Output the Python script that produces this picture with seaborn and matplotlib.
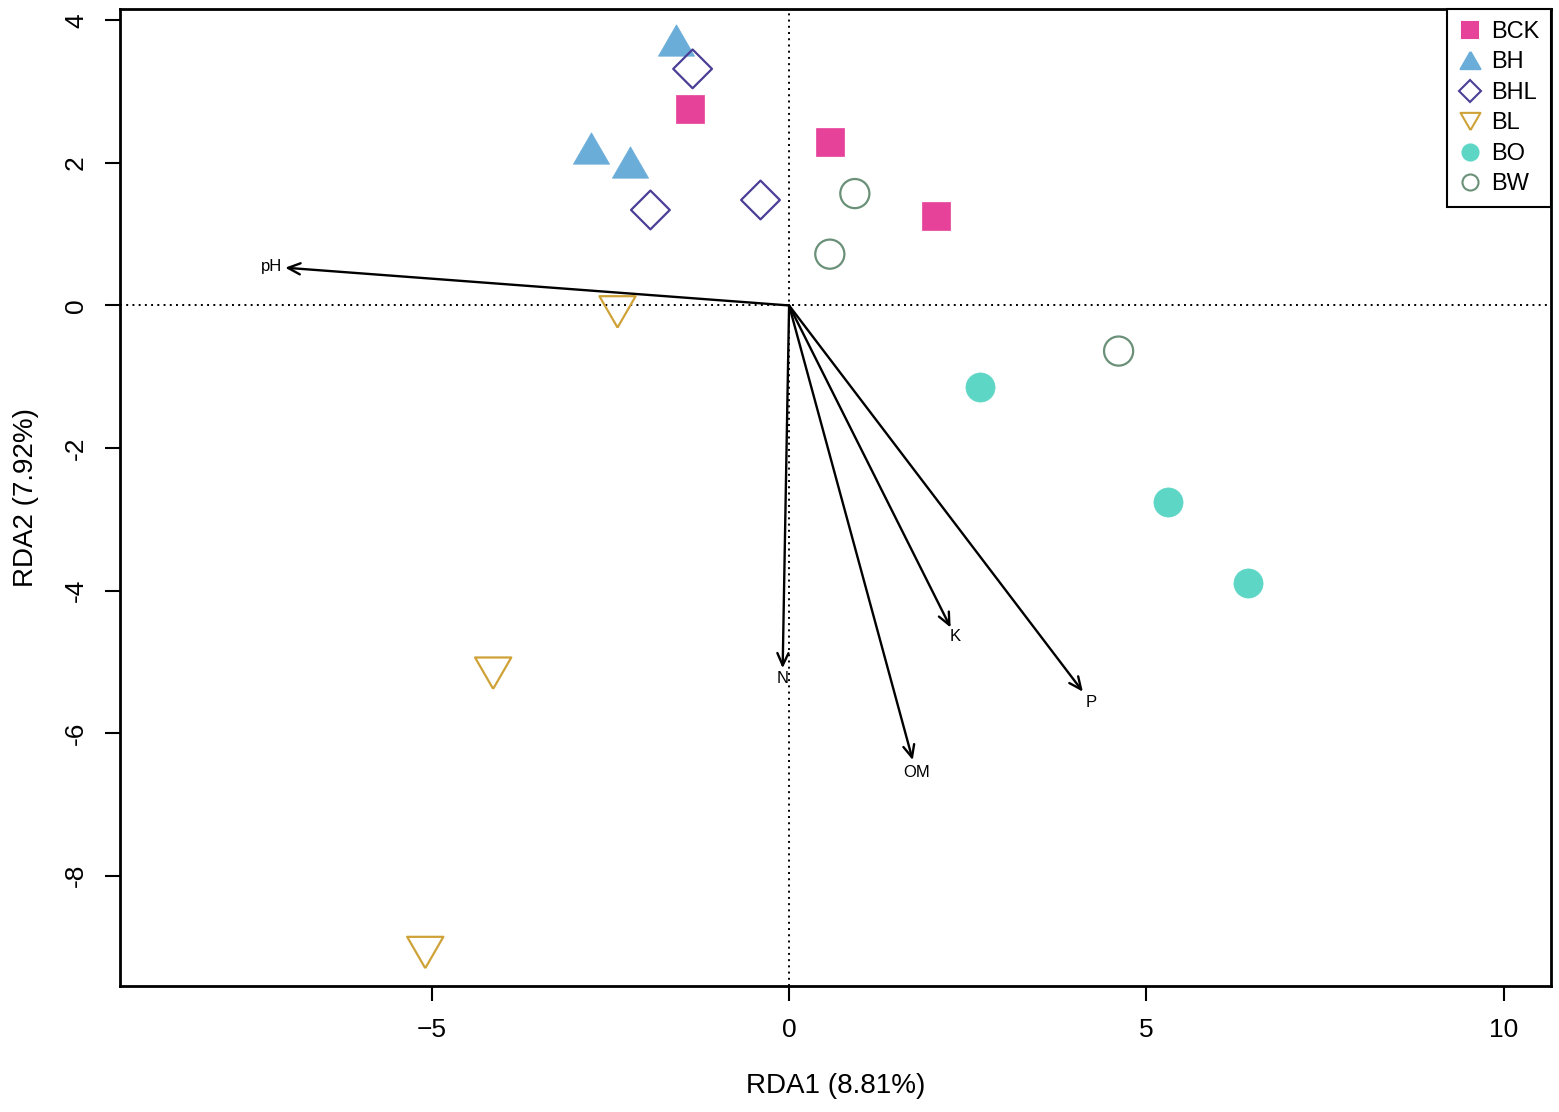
import matplotlib
matplotlib.use("Agg")
import matplotlib.pyplot as plt
from matplotlib.lines import Line2D
import numpy as np
import pandas as pd
import seaborn as sns

sns.set_style("ticks")
plt.rcParams['font.family'] = ['Liberation Sans', 'DejaVu Sans']
plt.rcParams['text.color'] = 'black'
plt.rcParams['axes.labelcolor'] = 'black'
plt.rcParams['xtick.color'] = 'black'
plt.rcParams['ytick.color'] = 'black'

# 样本得分 (RDA1, RDA2)
groups = ['BCK', 'BH', 'BHL', 'BL', 'BO', 'BW']
bck_x = [-1.38, 0.57, 2.05]
bck_y = [2.75, 2.30, 1.25]
bh_x = [-1.58, -2.77, -2.22]
bh_y = [3.73, 2.21, 2.02]
bhl_x = [-1.35, -1.94, -0.40]
bhl_y = [3.32, 1.34, 1.48]
bl_x = [-2.40, -4.14, -5.09]
bl_y = [-0.09, -5.16, -9.08]
bo_x = [2.67, 5.30, 6.42]
bo_y = [-1.15, -2.76, -3.89]
bw_x = [0.92, 0.57, 4.61]
bw_y = [1.57, 0.72, -0.64]

# 环境因子箭头
env_names = ['pH', 'N', 'K', 'OM', 'P']
env_x = [-7.05, -0.09, 2.26, 1.73, 4.11]
env_y = [0.53, -5.09, -4.52, -6.38, -5.42]

xticks = [-5, 0, 5, 10]
yticks = [-8, -6, -4, -2, 0, 2, 4]

df = pd.DataFrame({
    'RDA1': bck_x + bh_x + bhl_x + bl_x + bo_x + bw_x,
    'RDA2': bck_y + bh_y + bhl_y + bl_y + bo_y + bw_y,
    'group': [g for g in groups for _ in range(3)],
})

# 闭合的三角形路径
tri_up = [(0, 0.866), (-1, -0.866), (1, -0.866), (0, 0.866)]
tri_down = [(0, -0.866), (-1, 0.866), (1, 0.866), (0, -0.866)]

# 每组的样式: 颜色, 标记, 是否实心, 尺寸
styles = {
    'BCK': ('#E6429A', 's', True, 400),
    'BH': ('#6AADD8', tri_up, True, 680),
    'BHL': ('#4A3F96', 'D', False, 390),
    'BL': ('#CFA238', tri_down, False, 680),
    'BO': ('#5ED6C6', 'o', True, 440),
    'BW': ('#6A9078', 'o', False, 440),
}

fig = plt.figure(figsize=(15.59, 11.12), dpi=100)
ax = fig.add_axes([0.077, 0.1133, 0.9179, 0.8786])

ax.axhline(0, color='black', linestyle=(0, (1, 2.2)), linewidth=1.4, zorder=1)
ax.axvline(0, color='black', linestyle=(0, (1, 2.2)), linewidth=1.4, zorder=1)

for g in groups:
    color, marker, filled, size = styles[g]
    sub = df[df['group'] == g]
    if filled:
        sns.scatterplot(data=sub, x='RDA1', y='RDA2', ax=ax, marker=marker, s=size,
                        color=color, edgecolor=color, linewidth=0.5, zorder=3)
    else:
        sns.scatterplot(data=sub, x='RDA1', y='RDA2', ax=ax, marker=marker, s=size,
                        facecolor='none', edgecolor=color, linewidth=1.6, zorder=3)

for name, ex, ey in zip(env_names, env_x, env_y):
    ax.annotate('', xy=(ex, ey), xytext=(0, 0),
                arrowprops=dict(arrowstyle='->,head_length=0.55,head_width=0.25',
                                color='black', lw=1.7, mutation_scale=16,
                                shrinkA=0, shrinkB=0), zorder=2)
    ax.text(ex * 1.028, ey * 1.028, name, ha='center', va='center', fontsize=12)

ax.set_xlim(-9.36, 10.66)
ax.set_ylim(-9.55, 4.16)
ax.set_xticks(xticks)
ax.set_yticks(yticks)
ax.set_yticklabels([str(t) for t in yticks], rotation=90, va='center')
ax.tick_params(direction='out', length=11, width=1.5, labelsize=19, pad=12, colors='black')
ax.set_xlabel('RDA1 (8.81%)', fontsize=20, labelpad=22)
ax.set_ylabel('RDA2 (7.92%)', fontsize=20, labelpad=18)
for sp in ax.spines.values():
    sp.set_linewidth(2)
    sp.set_color('black')

handles = []
for g in groups:
    color, marker, filled, size = styles[g]
    handles.append(Line2D([], [], linestyle='none', marker=marker,
                          markersize=np.sqrt(size) * 0.55,
                          markerfacecolor=color if filled else 'none',
                          markeredgecolor=color, markeredgewidth=1.5, label=g))
leg = ax.legend(handles=handles, loc='upper right', borderaxespad=0, fontsize=17,
                frameon=True, fancybox=False, edgecolor='black', framealpha=1,
                handlelength=0.9, handletextpad=0.45, labelspacing=0.36, borderpad=0.5)
leg.get_frame().set_linewidth(1.5)

fig.savefig('out.png', dpi=100)
